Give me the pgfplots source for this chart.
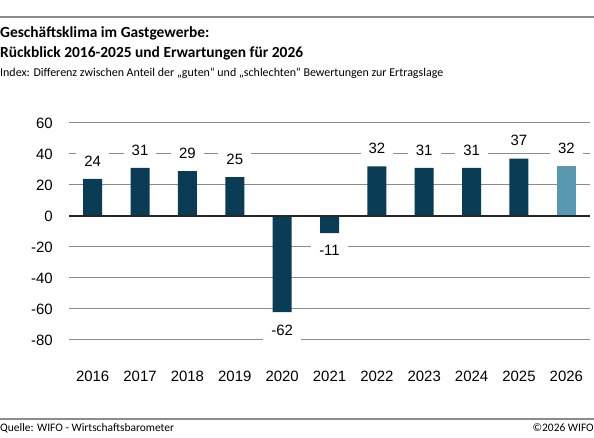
\documentclass[border=0pt]{standalone}
\usepackage{fontspec}
\setmainfont{Liberation Sans}
\newfontfamily\tfont{Carlito}
\usepackage{pgfplots}
\pgfplotsset{compat=1.18}
\definecolor{dark}{HTML}{0B3C56}
\definecolor{light}{HTML}{5A97B0}
\definecolor{gridc}{HTML}{8C8C8C}
\begin{document}
\begin{tikzpicture}[x=1bp,y=1bp]
\path[use as bounding box] (0,0) rectangle (594,438);
\draw[gridc, line width=1.2bp] (0,421) -- (594,421);
\draw[gridc, line width=1.2bp] (0,19) -- (594,19);
\node[anchor=base west, inner sep=0, font=\tfont\bfseries\fontsize{15.5}{18}\selectfont] at (0,400) {Geschäftsklima im Gastgewerbe:};
\node[anchor=base west, inner sep=0, font=\tfont\bfseries\fontsize{15.5}{18}\selectfont] at (0,380) {Rückblick 2016-2025 und Erwartungen für 2026};
\node[anchor=base west, inner sep=0, font=\tfont\fontsize{12}{14}\selectfont] at (0,361) {Index: Differenz zwischen Anteil der „guten“ und „schlechten“ Bewertungen zur Ertragslage};
\node[anchor=base west, inner sep=0, font=\tfont\fontsize{11.5}{13}\selectfont] at (0,6) {Quelle: WIFO - Wirtschaftsbarometer};
\node[anchor=base east, inner sep=0, font=\tfont\fontsize{11.5}{13}\selectfont] at (594,6) {©2026 WIFO};
\begin{axis}[at={(69bp,98bp)}, anchor=south west, scale only axis,
  width=521bp, height=217bp,
  xmin=-0.5, xmax=10.5, ymin=-80, ymax=60,
  ytick={-80,-60,...,60}, xtick={0,...,10},
  xticklabels={2016,2017,2018,2019,2020,2021,2022,2023,2024,2025,2026},
  axis line style={draw=none}, major tick length=0pt,
  ymajorgrids, grid style={gridc, line width=1bp},
  /pgf/number format/assume math mode=true,
  ticklabel style={font=\fontsize{15}{18}\selectfont},
  yticklabel style={anchor=east, inner sep=0pt, xshift=-16bp},
  xticklabel style={anchor=base, inner sep=0pt, yshift=-42bp},
  ybar, bar width=19bp, clip=false,
  nodes near coords,
  nodes near coords style={font=\fontsize{15}{18}\selectfont, fill=white, inner xsep=8bp, inner ysep=5bp, outer ysep=7.5bp, /pgf/number format/assume math mode=true},
]
\addplot[fill=dark, draw=none, bar shift=0pt] coordinates {(0,24) (1,31) (2,29) (3,25) (4,-62) (5,-11) (6,32) (7,31) (8,31) (9,37)};
\addplot[fill=light, draw=none, bar shift=0pt] coordinates {(10,32)};
\draw[black!85, line width=1.4bp] (axis cs:-0.5,0) -- (axis cs:10.5,0);
\end{axis}
\end{tikzpicture}
\end{document}
